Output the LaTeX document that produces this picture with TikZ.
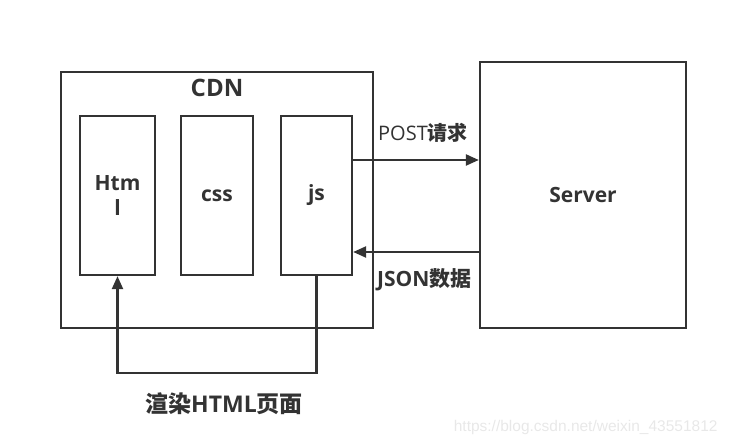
\documentclass[tikz,border=0pt]{standalone}
\usepackage{fontspec}
\setmainfont{Open Sans}
\newfontfamily\cjk{Noto Sans CJK SC}
\newfontfamily\wmfont{Liberation Sans}
\usetikzlibrary{arrows.meta,positioning}
\definecolor{linegray}{HTML}{333333}
\tikzset{
  box/.style={draw=linegray,line width=2.3pt,rectangle,inner sep=0pt},
  part/.style={box,minimum width=72pt,minimum height=159pt,font=\fontsize{21}{25}\selectfont\bfseries,align=center,text=linegray},
  tag/.style={font=\fontsize{20}{24}\selectfont,text=linegray,inner sep=0pt}
}
\begin{document}
\begin{tikzpicture}[x=1pt,y=-1pt,line width=2.3pt,draw=linegray,>={Triangle[length=13pt,width=11pt]}]
\useasboundingbox (0,0) rectangle (731,446);
\node[box,minimum width=312pt,minimum height=256pt] (cdn) at (217,200) {};
\node[font=\fontsize{24}{28}\selectfont\bfseries,text=linegray] (cdnlabel) at (217,88) {CDN};
\node[part,minimum width=75pt] (html) at (117.5,195.5) {Htm\\l};
\node[part] (css) at (217,195.5) {css};
\node[part,minimum width=71pt] (js) at (316.5,195.5) {js};
\node[box,minimum width=206pt,minimum height=266pt,font=\fontsize{21}{25}\selectfont\bfseries,text=linegray] (server) at (583,195) {Server};

\coordinate (post) at ([yshift=35.5pt]js.east);
\coordinate (json) at ([yshift=-56.5pt]js.east);

\node[tag,anchor=west] (postlabel) at (377,133) {POST{\cjk\bfseries 请求}};
\node[tag,anchor=west,font=\fontsize{21}{25}\selectfont\bfseries] (jsonlabel) at (376,280) {JSON{\cjk 数据}};
\node[tag,font=\fontsize{23}{27}\selectfont\bfseries] (render) at (224,404) {{\cjk 渲染}HTML{\cjk 页面}};

\path[draw=linegray]
(post) edge[->] (post -| server.west)
(json -| server.west) edge[->] (json);
\draw[->,linegray] (js.south) -- ++(0,97) -| (html.south);

\node[font=\wmfont\fontsize{15.5}{18}\selectfont,text=black!9,anchor=east] (mark) at (722,427) {https://blog.csdn.net/weixin\_43551812};
\end{tikzpicture}
\end{document}
